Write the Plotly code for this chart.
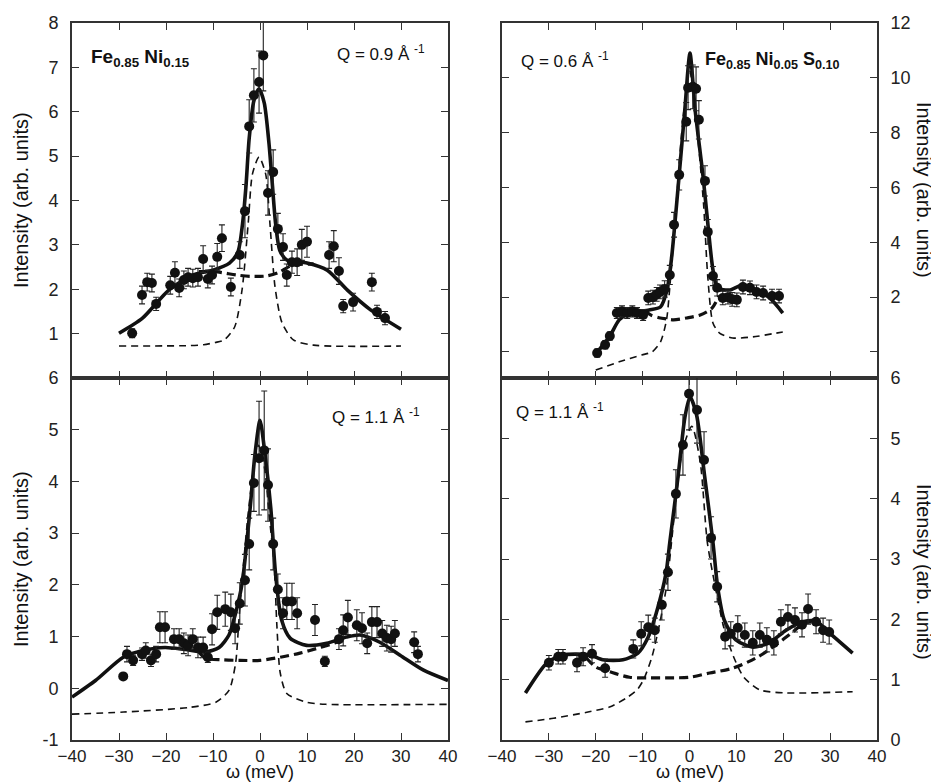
import plotly.graph_objects as go

# ---------------- Panel A : Fe0.85Ni0.15, Q = 0.9 1/A (top left) ----------------
a_omega = [-27.2, -25.1, -24.0, -23.0, -22.1, -19.1, -18.1, -17.2, -16.2, -15.3, -14.3, -13.2,
           -12.1, -11.1, -10.2, -9.1, -8.1, -6.2, -4.3, -3.2, -2.3, -1.3, -0.2, 0.7, 1.7, 2.8,
           3.8, 4.9, 5.7, 6.8, 7.9, 8.9, 10.0, 14.7, 15.7, 16.8, 17.7, 19.8, 23.8, 24.9, 26.6]
a_int = [1.01, 1.87, 2.16, 2.14, 1.67, 2.09, 2.37, 2.03, 2.21, 2.27, 2.25, 2.27,
         2.68, 2.23, 2.32, 2.73, 3.15, 2.05, 2.77, 3.76, 5.67, 6.37, 6.67, 7.27, 4.17, 4.64,
         3.36, 2.95, 2.32, 2.61, 2.61, 3.00, 3.07, 2.77, 2.97, 2.41, 1.62, 1.71, 2.16, 1.49, 1.35]
a_err = [0.1, 0.2, 0.2, 0.2, 0.15, 0.2, 0.25, 0.2, 0.2, 0.2, 0.2, 0.2,
         0.3, 0.2, 0.2, 0.3, 0.3, 0.2, 0.3, 0.6, 0.6, 0.6, 0.7, 0.8, 0.5, 0.5,
         0.35, 0.3, 0.25, 0.25, 0.3, 0.35, 0.35, 0.3, 0.35, 0.3, 0.15, 0.2, 0.2, 0.15, 0.15]
a_fit_omega = [-30, -25, -19.4, -14.3, -10, -6.5, -4.7, -3.7, -3.0, -2.3, -1.3, -0.2, 0.9,
               1.9, 2.6, 3.3, 4.2, 5.7, 10, 14.3, 18.6, 23.6, 30]
a_fit = [1.01, 1.35, 1.98, 2.32, 2.43, 2.59, 2.84, 3.49, 4.3, 5.4, 6.25, 6.52, 6.2,
         5.3, 4.4, 3.5, 2.88, 2.66, 2.59, 2.43, 1.98, 1.53, 1.10]
a_narrow_omega = [-30, -15, -12, -9.5, -7.6, -5.4, -3.8, -2.5, -1.6, -0.2, 1.2, 2.1, 3.2, 4.7,
                  7.1, 11.4, 30]
a_narrow = [0.72, 0.73, 0.75, 0.80, 0.86, 1.15, 2.0, 3.5, 4.6, 4.98, 4.6, 3.5, 2.05, 1.24,
            0.86, 0.74, 0.72]
a_broad_omega = [-13, -9.1, -5, -2, 1.4, 4, 6.4, 8.5, 11.4]
a_broad = [2.40, 2.39, 2.32, 2.29, 2.30, 2.38, 2.52, 2.56, 2.57]

# ---------------- Panel B : Fe0.85Ni0.05S0.10, Q = 0.6 1/A (top right) ----------------
b_omega = [-19.7, -18.0, -17.0, -15.5, -14.4, -13.3, -12.2, -11.2, -9.9, -8.8, -7.8, -7.0,
           -6.3, -5.3, -4.2, -3.3, -2.2, -0.7, -0.3, 0.7, 1.4, 2.0, 3.3, 3.9, 5.0, 5.9, 7.1,
           8.2, 9.1, 10.1, 11.4, 12.9, 14.3, 15.7, 17.6, 19.1]
b_int = [-0.04, 0.26, 0.58, 1.42, 1.48, 1.42, 1.48, 1.42, 1.35, 1.97, 2.00, 2.10,
         2.19, 2.30, 2.81, 4.64, 6.46, 8.40, 9.64, 9.67, 9.60, 8.47, 6.24, 4.38, 2.77, 2.34, 1.97,
         2.00, 1.92, 1.90, 2.37, 2.34, 2.19, 2.15, 2.04, 2.04]
b_err = [0.15, 0.15, 0.15, 0.2, 0.2, 0.2, 0.2, 0.2, 0.2, 0.25, 0.25, 0.25,
         0.25, 0.3, 0.35, 0.45, 0.55, 0.7, 0.8, 0.8, 0.8, 0.7, 0.55, 0.45, 0.35, 0.3, 0.25,
         0.25, 0.25, 0.25, 0.25, 0.25, 0.25, 0.25, 0.25, 0.25]
b_fit_omega = [-20, -17.1, -15, -12.9, -8.6, -6.2, -4.8, -3.8, -2.2, -1.0, 0.1, 1.2, 2.9,
               3.9, 5.0, 6.0, 8.5, 11.4, 14.2, 17.1, 19.9]
b_fit = [-0.07, 0.55, 1.17, 1.42, 1.53, 1.64, 2.26, 3.47, 6.46, 8.83, 10.9, 8.83, 6.39,
         4.70, 3.00, 2.34, 2.26, 2.45, 2.26, 1.97, 1.42]
b_narrow_omega = [-20, -15, -10.2, -8, -6.2, -4.9, -4.2, -3.0, -1.5, 0.0, 1.5, 3.0, 3.9, 5.0,
                  6.4, 9.2, 13.5, 19.9]
b_narrow = [-0.66, -0.36, -0.11, 0.0, 0.36, 1.17, 2.37, 5.0, 8.3, 10.3, 8.3, 5.4, 2.74, 1.06,
            0.69, 0.51, 0.55, 0.73]
b_broad_omega = [-9.5, -8.3, -6.5, -4.8, -3.4, -0.6, 2.3, 4.8, 6.3]
b_broad = [1.50, 1.35, 1.25, 1.20, 1.17, 1.24, 1.35, 1.60, 2.05]

# ---------------- Panel C : Fe0.85Ni0.15, Q = 1.1 1/A (bottom left) ----------------
c_omega = [-29.1, -28.3, -27.0, -25.1, -24.3, -23.2, -22.1, -21.3, -20.2, -18.3,
           -17.2, -16.2, -15.3, -14.3, -13.2, -12.1, -11.1, -10.2, -9.1, -7.4,
           -6.2, -5.3, -4.3, -3.2, -2.3, -1.3, -0.2, 0.9, 1.7, 2.8,
           3.8, 4.9, 5.7, 6.8, 7.9, 11.7, 13.8, 16.8, 17.7, 18.7,
           20.6, 21.7, 22.8, 23.8, 24.9, 26.0, 27.0, 27.9, 28.7, 32.8, 33.6]
c_int = [0.23, 0.66, 0.54, 0.66, 0.73, 0.54, 0.66, 1.18, 1.18, 0.95,
         0.95, 0.87, 0.83, 0.95, 0.79, 0.79, 0.60, 1.14, 1.47, 1.53,
         1.47, 1.16, 1.64, 2.09, 2.79, 3.97, 4.45, 4.60, 3.93, 2.79,
         1.91, 1.45, 1.68, 1.68, 1.45, 1.32, 0.52, 0.95, 1.12, 1.37,
         1.22, 1.16, 0.87, 1.28, 1.28, 1.06, 0.97, 0.95, 1.06, 0.89, 0.66]
c_err = [0.05, 0.15, 0.1, 0.12, 0.15, 0.12, 0.15, 0.3, 0.3, 0.2,
         0.2, 0.2, 0.2, 0.2, 0.2, 0.2, 0.1, 0.3, 0.33, 0.33,
         0.35, 0.3, 0.4, 0.5, 0.5, 0.55, 1.1, 1.15, 0.7, 0.5,
         0.3, 0.3, 0.35, 0.35, 0.3, 0.3, 0.1, 0.2, 0.3, 0.33,
         0.3, 0.3, 0.2, 0.3, 0.3, 0.25, 0.25, 0.25, 0.25, 0.2, 0.15]
c_fit_omega = [-40, -35, -29.1, -24.9, -20.2, -15.9, -11.5, -8.7, -6.6, -5.2, -3.8, -2.1,
               -1.1, 0.0, 1.1, 2.3, 3.3, 4.6, 6.4, 9.9, 14.2, 18.4, 21.3, 25.5, 29.8, 34.8, 40]
c_fit = [-0.17, 0.15, 0.60, 0.73, 0.79, 0.75, 0.70, 0.79, 1.03, 1.45, 2.03, 3.48,
         4.50, 5.18, 4.50, 3.48, 2.22, 1.32, 0.97, 0.83, 0.87, 0.99, 1.03, 0.89, 0.64, 0.35, 0.15]
c_narrow_omega = [-40, -29, -15, -9.4, -6.6, -5.2, -4.5, -3.8, -2.6, -1.3, -0.3, 0.9, 2.0,
                  3.0, 3.6, 4.3, 5.7, 9.9, 14, 40]
c_narrow = [-0.50, -0.46, -0.37, -0.27, -0.04, 0.48, 1.3, 2.1, 3.3, 4.3, 4.7, 4.3, 3.3,
            2.4, 1.2, 0.3, -0.10, -0.27, -0.31, -0.31]
c_broad_omega = [-13, -11.5, -8, -4.3, 0, 4.3, 8.5, 12.8, 16, 18]
c_broad = [0.70, 0.58, 0.55, 0.54, 0.54, 0.60, 0.68, 0.79, 0.88, 0.96]

# ---------------- Panel D : Fe0.85Ni0.05S0.10, Q = 1.1 1/A (bottom right) ----------------
d_omega = [-30.0, -28.0, -27.0, -24.0, -22.7, -20.8, -18.0, -12.0, -10.3, -8.8, -7.4, -5.9,
           -4.6, -2.9, -1.4, -0.1, 1.6, 3.1, 4.6, 5.9, 7.6, 8.8, 10.3, 11.8, 13.5, 15.0,
           16.5, 18.0, 19.5, 21.0, 22.5, 24.0, 25.3, 27.0, 28.5, 29.8]
d_int = [1.28, 1.38, 1.38, 1.28, 1.38, 1.43, 1.19, 1.51, 1.76, 1.87, 1.82, 2.24,
         2.78, 4.08, 4.89, 5.74, 5.47, 4.64, 3.35, 2.54, 1.71, 1.76, 1.86, 1.74, 1.61, 1.74,
         1.66, 1.61, 1.96, 2.04, 1.99, 1.91, 2.17, 1.96, 1.82, 1.79]
d_err = [0.12, 0.12, 0.12, 0.15, 0.15, 0.15, 0.15, 0.15, 0.2, 0.2, 0.2, 0.25,
         0.3, 0.4, 0.5, 0.6, 0.55, 0.47, 0.35, 0.25, 0.2, 0.2, 0.2, 0.2, 0.2, 0.2,
         0.2, 0.2, 0.2, 0.2, 0.2, 0.2, 0.25, 0.2, 0.2, 0.2]
d_fit_omega = [-35, -30.4, -27, -21.3, -18.5, -14.2, -11, -8.9, -7.1, -5.0, -4.2, -2.4, -1.0,
               0.1, 1.5, 3.2, 5.0, 6.0, 7.4, 9.9, 13.5, 17, 20.6, 24.2, 27, 29.9, 34.8]
d_fit = [0.78, 1.28, 1.41, 1.41, 1.33, 1.33, 1.44, 1.69, 2.10, 2.77, 3.28, 4.39, 5.34,
         5.69, 5.39, 4.39, 3.28, 2.54, 1.99, 1.66, 1.54, 1.61, 1.82, 1.96, 1.97, 1.77, 1.44]
d_narrow_omega = [-35, -29, -21.9, -16.9, -13.4, -11.2, -9.8, -8, -6.2, -4.8, -3.0, -1.5, 0.5,
                  2.3, 3.8, 5.5, 7.3, 9.4, 11.6, 15, 20.7, 34.8]
d_narrow = [0.30, 0.36, 0.46, 0.55, 0.70, 0.83, 1.00, 1.38, 1.99, 2.60, 3.90, 4.80, 5.20,
            4.60, 3.28, 2.54, 1.87, 1.38, 1.04, 0.83, 0.78, 0.80]
d_broad_omega = [-22, -20, -17, -12.8, -8.5, -4.3, 0, 4.3, 9.2, 14.2, 18.5, 22, 24.2, 26]
d_broad = [1.36, 1.21, 1.13, 1.04, 1.03, 1.03, 1.04, 1.11, 1.19, 1.36, 1.58, 1.79, 1.92, 1.96]

# tick labels
x_ticks = [-40, -30, -20, -10, 0, 10, 20, 30, 40]
a_yticks = [1, 2, 3, 4, 5, 6, 7, 8]
b_yticks = [0, 2, 4, 6, 8, 10, 12]
b_yticktext = ["", "2", "4", "6", "8", "10", "12"]
c_yticks = [-1, 0, 1, 2, 3, 4, 5, 6]
d_yticks = [0, 1, 2, 3, 4, 5, 6]

W, H = 939, 784
OFF = 8  # page body margin in the browser
FONT = "Liberation Sans, Arial, sans-serif"
INK = "#111"
AX = "#333"

def fx(p):
    return (p - OFF) / W

def fy(p):
    return 1 - (p - OFF) / H

fig = go.Figure()

panels = [
    ("x", "y", a_omega, a_int, a_err, a_fit_omega, a_fit, a_narrow_omega, a_narrow, a_broad_omega, a_broad),
    ("x2", "y2", b_omega, b_int, b_err, b_fit_omega, b_fit, b_narrow_omega, b_narrow, b_broad_omega, b_broad),
    ("x3", "y3", c_omega, c_int, c_err, c_fit_omega, c_fit, c_narrow_omega, c_narrow, c_broad_omega, c_broad),
    ("x4", "y4", d_omega, d_int, d_err, d_fit_omega, d_fit, d_narrow_omega, d_narrow, d_broad_omega, d_broad),
]

for xa, ya, om, it, er, fo, fv, no, nv, bo, bv in panels:
    fig.add_trace(go.Scatter(x=no, y=nv, xaxis=xa, yaxis=ya, mode="lines",
                             line=dict(color=INK, width=1.6, dash="7px,5px", shape="spline", smoothing=0.7),
                             showlegend=False, hoverinfo="skip"))
    fig.add_trace(go.Scatter(x=bo, y=bv, xaxis=xa, yaxis=ya, mode="lines",
                             line=dict(color=INK, width=3.2, dash="9px,5px", shape="spline", smoothing=0.8),
                             showlegend=False, hoverinfo="skip"))
    fig.add_trace(go.Scatter(x=fo, y=fv, xaxis=xa, yaxis=ya, mode="lines",
                             line=dict(color=INK, width=3.6, shape="spline", smoothing=0.7),
                             showlegend=False, hoverinfo="skip"))
    fig.add_trace(go.Scatter(x=om, y=it, xaxis=xa, yaxis=ya, mode="markers",
                             marker=dict(color=INK, size=10, line=dict(width=0)),
                             error_y=dict(type="data", array=er, visible=True, color="#222",
                                          thickness=1.1, width=3),
                             showlegend=False))

LX = [fx(72), fx(448)]
RX = [fx(502), fx(877)]
TY = [fy(378), fy(23)]
BY = [fy(740), fy(378)]

def xax(domain, anchor, labels):
    return dict(domain=domain, anchor=anchor, range=[-40, 40], tickvals=x_ticks,
                showticklabels=labels, ticks="inside", ticklen=7, tickwidth=1.3, tickcolor=AX,
                showline=True, linewidth=1.6, linecolor=AX, mirror="allticks",
                showgrid=False, zeroline=False, ticklabelstandoff=0, automargin=False,
                tickfont=dict(family=FONT, size=17, color="#222"))

def yax(domain, anchor, rng, vals, text, side):
    return dict(domain=domain, anchor=anchor, range=rng, tickvals=vals, ticktext=text,
                side=side, ticks="inside", ticklen=7, tickwidth=1.3, tickcolor=AX,
                showline=True, linewidth=1.6, linecolor=AX, mirror="allticks",
                showgrid=False, zeroline=False, ticklabelstandoff=8, automargin=False,
                tickfont=dict(family=FONT, size=18, color="#222"))

fig.update_layout(
    width=W, height=H, margin=dict(l=0, r=0, t=0, b=0, autoexpand=False),
    paper_bgcolor="white", plot_bgcolor="white", showlegend=False,
    xaxis=xax(LX, "y", False),
    yaxis=yax(TY, "x", [0, 8], a_yticks, [str(v) for v in a_yticks], "left"),
    xaxis2=xax(RX, "y2", False),
    yaxis2=yax(TY, "x2", [-0.95, 12], b_yticks, b_yticktext, "right"),
    xaxis3=xax(LX, "y3", True),
    yaxis3=yax(BY, "x3", [-1, 6], c_yticks, [str(v) for v in c_yticks], "left"),
    xaxis4=xax(RX, "y4", True),
    yaxis4=yax(BY, "x4", [0, 6], d_yticks, [str(v) for v in d_yticks], "right"),
)

def ann(text, px, py, size, xanchor="left", angle=0, bold=False):
    fig.add_annotation(text=("<b>%s</b>" % text) if bold else text,
                       x=fx(px), y=fy(py), xref="paper", yref="paper",
                       xanchor=xanchor, yanchor="middle", showarrow=False, textangle=angle,
                       borderpad=0,
                       font=dict(family=FONT, size=size, color="#111"))

ann("Fe<sub>0.85</sub> Ni<sub>0.15</sub>", 90, 58, 19, bold=True)
ann("Q = 0.9 Å <sup>-1</sup>", 336, 53, 17)
ann("Q = 0.6 Å <sup>-1</sup>", 520, 60, 17)
ann("Fe<sub>0.85</sub> Ni<sub>0.05</sub> S<sub>0.10</sub>", 704, 60, 18, bold=True)
ann("Q = 1.1 Å <sup>-1</sup>", 331, 416, 17)
ann("Q = 1.1 Å <sup>-1</sup>", 515, 411, 17)

ann("Intensity (arb. units)", 21, 200, 20, xanchor="center", angle=-90)
ann("Intensity (arb. units)", 21, 559, 20, xanchor="center", angle=-90)
ann("Intensity (arb. units)", 924, 190, 20, xanchor="center", angle=90)
ann("Intensity (arb. units)", 924, 572, 20, xanchor="center", angle=90)
ann("ω (meV)", 260, 772, 18, xanchor="center")
ann("ω (meV)", 690, 772, 18, xanchor="center")

fig.write_html("out.html")
